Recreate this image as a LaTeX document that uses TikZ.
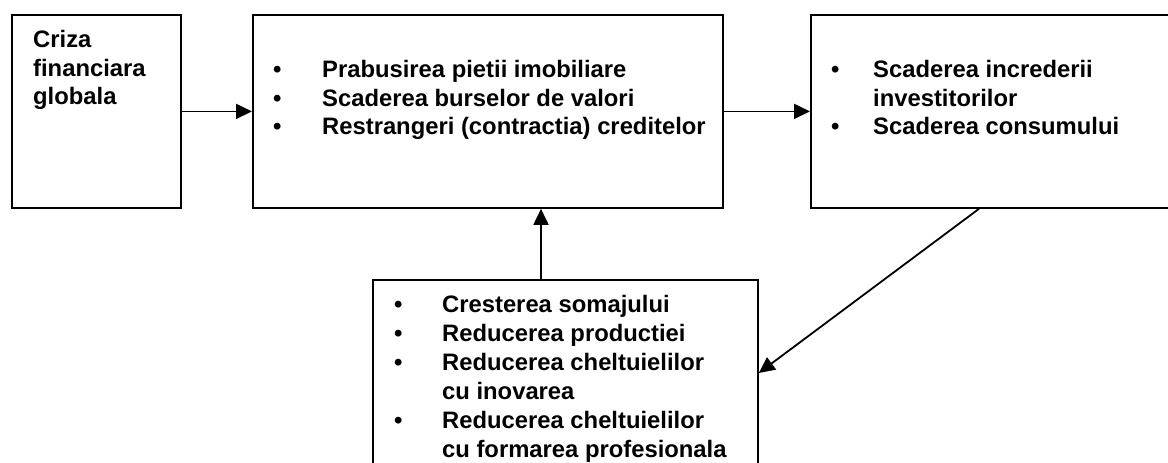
\documentclass[tikz,border=0pt]{standalone}
\usepackage{fontspec}
\setmainfont{Liberation Sans}
\usetikzlibrary{arrows.meta}

\tikzset{
	box/.style={draw, line width=1.8pt, anchor=north west, inner sep=0pt},
	list/.style={anchor=base west, inner sep=0pt, font=\bfseries\fontsize{23.8}{29}\selectfont},
	link/.style={line width=1.8pt, -{Triangle[length=16pt,width=15pt]}},
}

\begin{document}
\begin{tikzpicture}[x=1pt,y=-1pt]
	\useasboundingbox (0,0) rectangle (1168,463);
	\clip (0,0) rectangle (1168,463);

%% Boxes
	\node[box, minimum width=169pt, minimum height=193pt] (crisis) at (11,14) {};
	\node[box, minimum width=470pt, minimum height=193pt] (markets) at (252,14) {};
	\node[box, minimum width=380pt, minimum height=193pt] (confidence) at (810,14) {};
	\node[box, minimum width=385pt, minimum height=200pt] (economy) at (372,279) {};

%% Texts
	\node[list] (crisis-text) at (33,47) {\begin{tabular}[t]{@{}l@{}}Criza\\financiara\\globala\end{tabular}};
	\node[list] (markets-text) at (273,77) {\begin{tabular}[t]{@{}p{49pt}@{}l@{}}
		\textbullet & Prabusirea pietii imobiliare\\
		\textbullet & Scaderea burselor de valori\\
		\textbullet & Restrangeri (contractia) creditelor\end{tabular}};
	\node[list] (confidence-text) at (831,77) {\begin{tabular}[t]{@{}p{42pt}@{}l@{}}
		\textbullet & Scaderea increderii\\
		 & investitorilor\\
		\textbullet & Scaderea consumului\end{tabular}};
	\node[list] (economy-text) at (394,312) {\begin{tabular}[t]{@{}p{48pt}@{}l@{}}
		\textbullet & Cresterea somajului\\
		\textbullet & Reducerea productiei\\
		\textbullet & Reducerea cheltuielilor\\
		 & cu inovarea\\
		\textbullet & Reducerea cheltuielilor\\
		 & cu formarea profesionala\end{tabular}};

%% Connectors
	\coordinate (feedback) at (541,279);
	\coordinate (spill) at ([xshift=169pt]confidence.south west);
	\draw[link] (crisis.east) -- (markets.west);
	\draw[link] (markets.east) -- (confidence.west);
	\draw[link] (feedback) -- (feedback |- markets.south);
	\draw[link] (spill) -- ([yshift=-94pt]economy.north east);
\end{tikzpicture}
\end{document}
